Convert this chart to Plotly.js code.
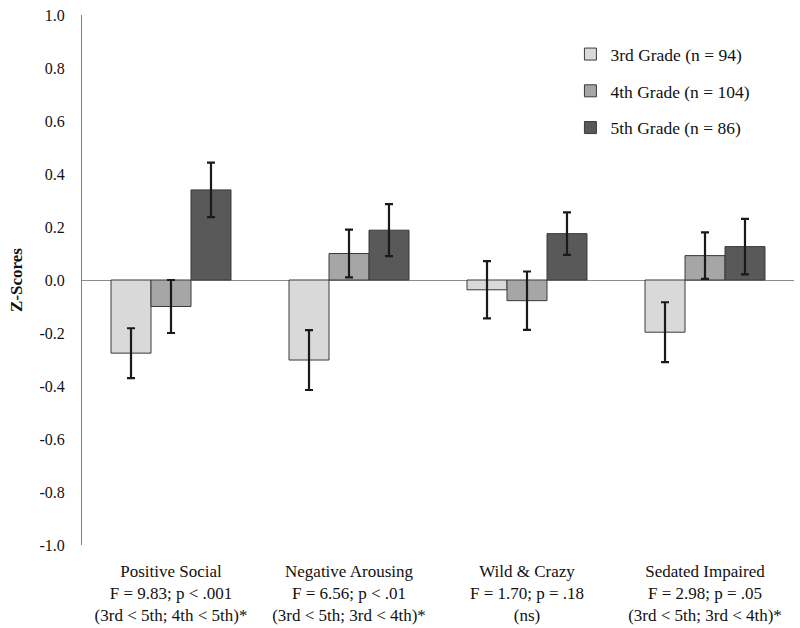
<!DOCTYPE html>
<html>
<head>
<meta charset="utf-8">
<script src="https://cdn.plot.ly/plotly-3.0.1.min.js"></script>
<style>html,body{margin:0;padding:0;background:#fff;}#chart{width:800px;height:628px;}</style>
</head>
<body>
<div id="chart"></div>
<script>
var categories = [
  "Positive Social<br>F = 9.83; p &lt; .001<br>(3rd &lt; 5th; 4th &lt; 5th)*",
  "Negative Arousing<br>F = 6.56; p &lt; .01<br>(3rd &lt; 5th; 3rd &lt; 4th)*",
  "Wild &amp; Crazy<br>F = 1.70; p = .18<br>(ns)",
  "Sedated Impaired<br>F = 2.98; p = .05<br>(3rd &lt; 5th; 3rd &lt; 4th)*"
];
var seriesNames = ["3rd Grade (n = 94)", "4th Grade (n = 104)", "5th Grade (n = 86)"];
var grade3 = [-0.276, -0.302, -0.037, -0.197];
var grade3Err = [0.094, 0.113, 0.108, 0.113];
var grade4 = [-0.100, 0.100, -0.078, 0.092];
var grade4Err = [0.100, 0.090, 0.110, 0.088];
var grade5 = [0.340, 0.188, 0.175, 0.126];
var grade5Err = [0.103, 0.098, 0.080, 0.105];
var yTicks = [-1.0, -0.8, -0.6, -0.4, -0.2, 0.0, 0.2, 0.4, 0.6, 0.8, 1.0];

var fills = ["#d9d9d9", "#a6a6a6", "#595959"];
var values = [grade3, grade4, grade5];
var errs = [grade3Err, grade4Err, grade5Err];

var traces = values.map(function (v, i) {
  return {
    type: "bar",
    x: categories,
    y: v,
    name: seriesNames[i],
    legendgroup: "g" + i,
    marker: { color: fills[i], line: { color: "#3a3a3a", width: 1 } },
    error_y: { type: "data", array: errs[i], visible: true, color: "#1a1a1a", thickness: 2.2, width: 4 }
  };
});

var fam = "Liberation Serif, Times New Roman, serif";

var layout = {
  width: 800,
  height: 628,
  margin: { l: 82, r: 6, t: 15, b: 83 },
  paper_bgcolor: "#ffffff",
  plot_bgcolor: "#ffffff",
  font: { family: fam, size: 16, color: "#111" },
  barmode: "group",
  bargap: 0.326,
  bargroupgap: 0,
  showlegend: true,
  legend: {
    x: 0.686, y: 0.96, xanchor: "left", yanchor: "top",
    font: { family: fam, size: 17.5, color: "#111" },
    tracegroupgap: 11,
    bgcolor: "rgba(0,0,0,0)",
    itemwidth: 30
  },
  xaxis: {
    showline: false,
    showgrid: false,
    zeroline: false,
    ticks: "",
    ticklabelstandoff: 14,
    tickfont: { family: fam, size: 17, color: "#111" },
    tickangle: 0
  },
  yaxis: {
    range: [-1.0, 1.0],
    tickvals: yTicks,
    ticktext: yTicks.map(function (t) { return t.toFixed(1); }),
    showline: true,
    linecolor: "#7f7f7f",
    linewidth: 1,
    showgrid: false,
    zeroline: true,
    zerolinecolor: "#8c8c8c",
    zerolinewidth: 1,
    ticks: "",
    ticklabelstandoff: 13,
    tickfont: { family: fam, size: 16, color: "#111" },
    title: { text: "<b>Z-Scores</b>", font: { family: fam, size: 17, color: "#111" }, standoff: 12 }
  }
};

Plotly.newPlot("chart", traces, layout, { displayModeBar: false, staticPlot: true });
</script>
</body>
</html>
